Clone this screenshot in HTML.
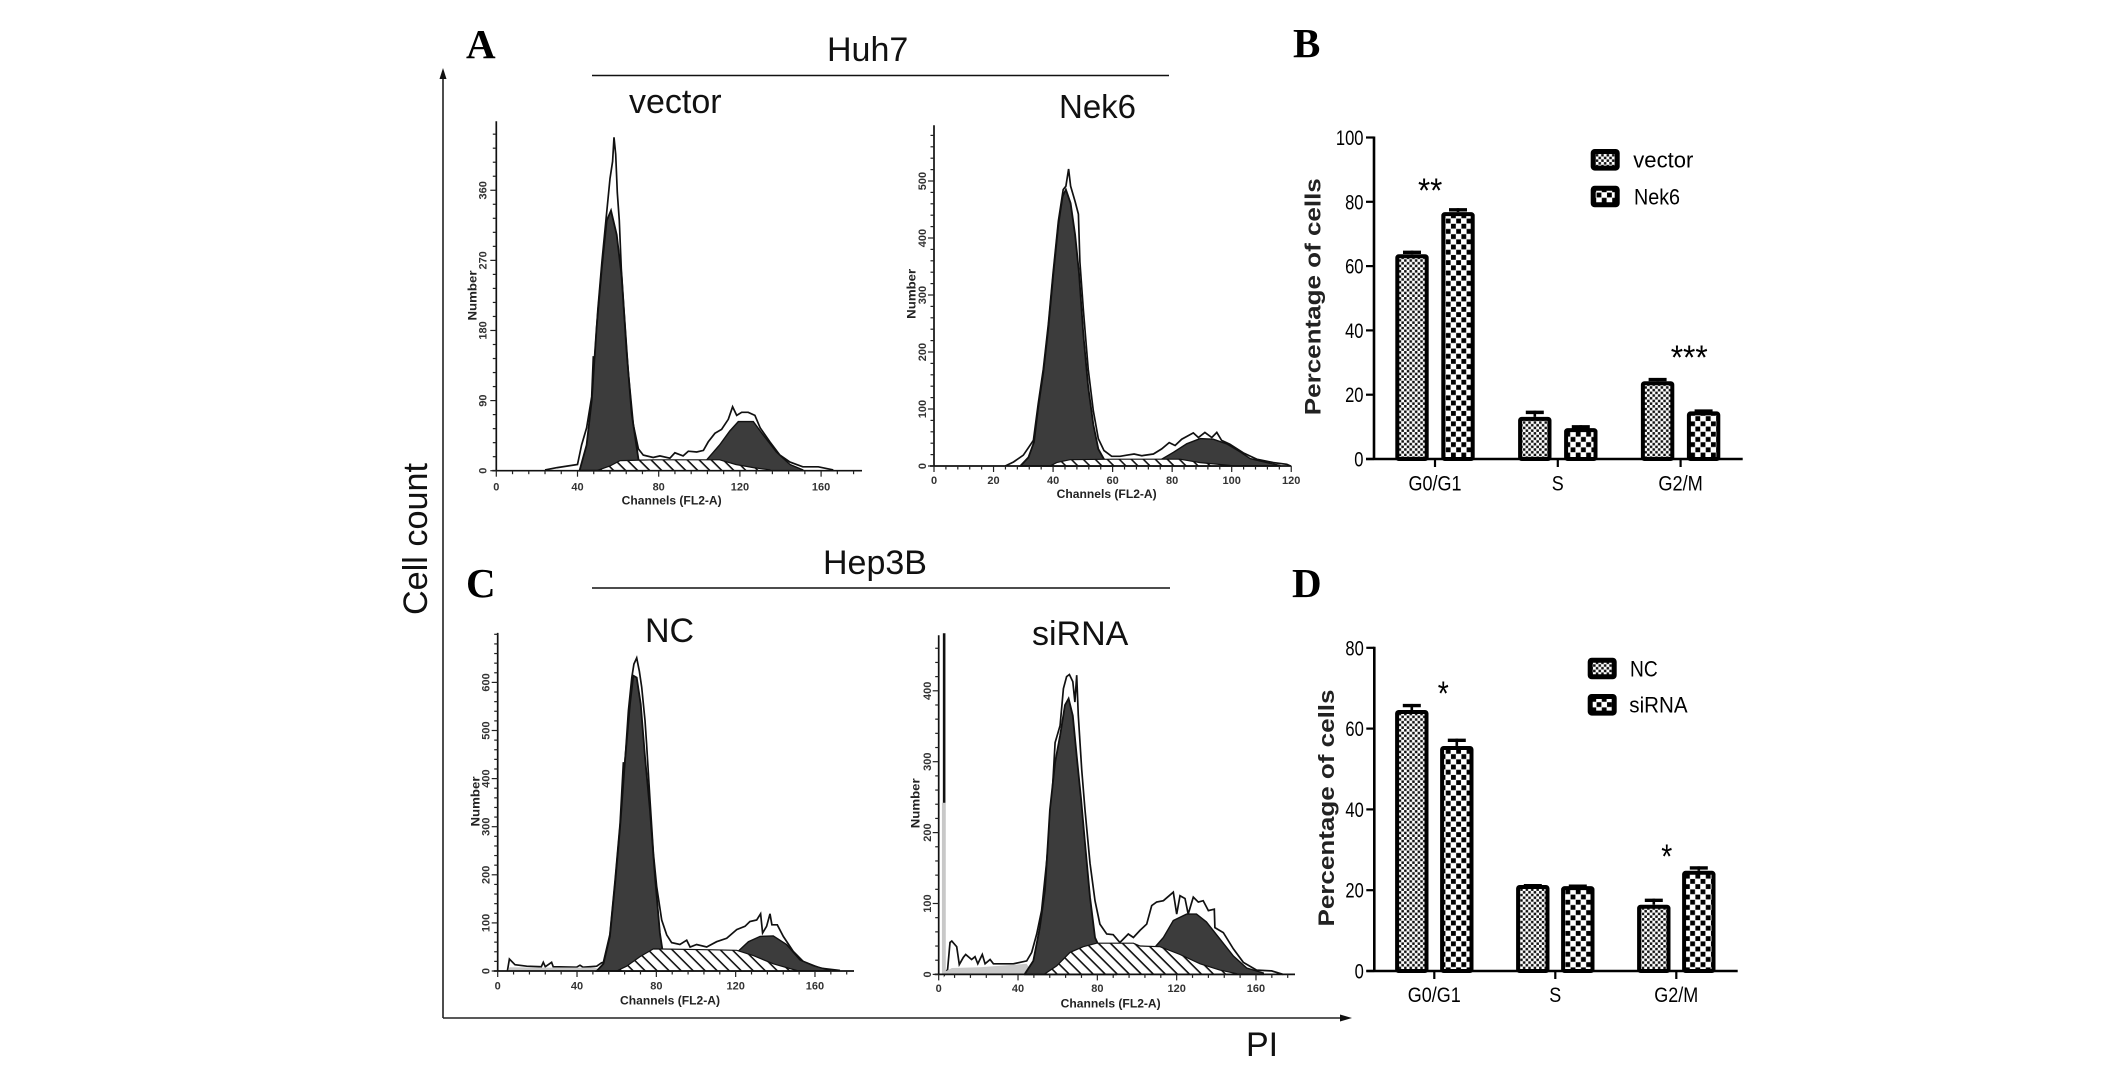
<!DOCTYPE html>
<html lang="en">
<head>
<meta charset="utf-8">
<title>Cell cycle analysis</title>
<style>
html,body{margin:0;padding:0;background:#fff;}
svg{display:block;}
text{fill:#000;font-family:"Liberation Sans",Arial,sans-serif;}
.letter{font-family:"Liberation Serif",serif;font-weight:bold;font-size:41px;}
.big{font-size:34px;fill:#111;}
</style>
</head>
<body>
<svg id="fig" xmlns="http://www.w3.org/2000/svg" width="2126" height="1067" viewBox="0 0 2126 1067">
  <defs>
    <pattern id="hatch" patternUnits="userSpaceOnUse" width="8.5" height="8.5" patternTransform="rotate(45)">
      <rect width="8.5" height="8.5" fill="#fff"/><rect width="8.5" height="1.6" fill="#111"/>
    </pattern>
    <pattern id="fine" patternUnits="userSpaceOnUse" width="5.4" height="5.4">
      <rect width="5.4" height="5.4" fill="#fff"/><rect x="0.1" y="0.1" width="2.5" height="2.5" fill="#111"/><rect x="2.8" y="2.8" width="2.5" height="2.5" fill="#111"/>
    </pattern>
    <pattern id="coarse" patternUnits="userSpaceOnUse" width="10.4" height="10.4">
      <rect width="10.4" height="10.4" fill="#fff"/><rect x="0.2" y="0.2" width="4.8" height="4.8" fill="#000"/><rect x="5.4" y="5.4" width="4.8" height="4.8" fill="#000"/>
    </pattern>
  </defs>
  <rect width="2126" height="1067" fill="#fff"/>

  <text class="letter" x="466" y="58">A</text>
  <text class="letter" x="1293" y="57">B</text>
  <text class="letter" x="466" y="597">C</text>
  <text class="letter" x="1292" y="597">D</text>

  <text class="big" x="827" y="61">Huh7</text>
  <line x1="592" y1="75.5" x2="1169" y2="75.5" stroke="#111" stroke-width="1.4"/>
  <text class="big" x="823" y="574">Hep3B</text>
  <line x1="592" y1="588" x2="1170" y2="588" stroke="#111" stroke-width="1.4"/>

  <text class="big" x="629" y="113">vector</text>
  <text class="big" x="1059" y="118" font-size="33" style="font-size:33px">Nek6</text>
  <text class="big" x="645" y="642">NC</text>
  <text class="big" x="1032" y="645">siRNA</text>

  <text class="big" transform="translate(427,615) rotate(-90)" textLength="152" lengthAdjust="spacingAndGlyphs">Cell count</text>
  <text class="big" x="1246" y="1056">PI</text>

  <line x1="443" y1="75" x2="443" y2="1018" stroke="#222" stroke-width="1.6"/>
  <polygon points="443,68 439.5,79 446.5,79" fill="#111"/>
  <line x1="443" y1="1018" x2="1345" y2="1018" stroke="#222" stroke-width="1.6"/>
  <polygon points="1352,1018 1340,1014.5 1340,1021.5" fill="#111"/>

  <g id="plots"></g>
</svg>

<script>
// ---- Panel A (Huh7 vector) histogram data
const aTicksX = [0, 40, 80, 120, 160];
const aTicksY = [0, 90, 180, 270, 360];
const aRawCh = [24,30,40,42,44.5,47,47.8,48.5,50,52,54,56,57.3,58,58.8,59.6,60.6,61.6,62.9,65,67.5,70,72.4,77.3,80.6,85.5,88,92,94.6,98.7,102,104.4,107.7,111,114.3,116.4,118.4,120.9,124.1,127.4,130,134.8,139.7,144.7,151,158.6,166];
const aRawV = [1,4,8,33,55,95,146,146,206,268,321,375,397,428,406,357,321,259,206,126,59,28,20,17,19,16,23,19,25,24,26,37,48,53,66,82,71,75,75,71,55,37,20,11,5,5,1];
const aG1Ch = [41,44.5,47,49.4,51.9,54.4,56.5,59.3,61.7,64.2,66.7,70,73];
const aG1V = [0,33,90,184,259,321,334,303,250,153,73,15,0];
const aG2Ch = [100,104,110,115,119.2,126.6,131.5,138,144.7,151];
const aG2V = [0,15,33,51,63,63,46,24,8,1];
const aSCh = [49.4,56,61,77.3,110,118,126.6,134.8];
const aSV = [0,6,13,14,14,8,4,1];

// ---- Panel Nek6 histogram data
const nTicksX = [0, 20, 40, 60, 80, 100, 120];
const nTicksY = [0, 100, 200, 300, 400, 500];
const nRawCh = [23.9,26.7,30,33.4,35,36.7,38.4,40,41.8,43.4,44.3,45.2,45.9,47.4,48.5,49,50.2,51.8,53.5,55.2,57.1,59.7,62.5,64.7,67.2,69.8,73.7,76.5,79,81,83.2,87.1,88.8,91,93.3,95,96.6,99.4,103.9,108.4,114,118.5,119.8];
const nRawV = [0,7,19,45,109,170,248,339,430,485,491,521,491,464,442,358,273,170,97,48,27,17,17,19,21,18,21,30,41,36,47,58,50,59,50,59,45,38,23,12,6,3,0];
const nG1Ch = [29,31.7,33.6,35,36.7,38.4,40,41.8,43.2,44.3,45.9,47.4,48.7,50.2,51.8,53.5,55.2,57.1,60.2];
const nG1V = [0,15,42,103,164,242,333,424,473,485,461,406,339,230,139,73,30,12,1];
const nG2Ch = [74,76.5,80.4,84.9,89.4,93.8,98.3,102.8,106.2,111.8,116.2];
const nG2V = [0,12,24,39,48,47,39,25,13,6,1];
const nSCh = [39,41.2,45.7,60.2,82.6,89.4,99.4];
const nSV = [0,6,11,12,12,6,1];

// ---- Panel NC histogram data
const cTicksX = [0, 40, 80, 120, 160];
const cTicksY = [0, 100, 200, 300, 400, 500, 600];
const cRawCh = [4.9,5.9,8.7,14.6,22,23,24,27.2,28,39.8,41.5,43,49.9,52.4,53.3,56.6,59.2,61.7,63.4,63.8,65.9,67.6,68.7,70.1,71.4,72.6,74.3,75.1,76.8,78.5,80.2,82.7,85.2,87.7,91.9,95.3,97,100.3,105.4,110.4,115.5,120.5,124.7,127.2,130.6,132.6,133.6,135.6,137.3,138.3,141,144,149,154,162.5,172.6];
const cRawV = [0,25,13,10,9,18,9,18,9,8,12,8,10,17,18,76,189,307,434,410,541,610,638,651,624,590,521,472,355,244,175,106,75,59,55,64,50,55,50,61,68,86,93,103,106,119,79,93,119,96,96,72,41,20,6,1];
const cG1Ch = [49.9,53.3,56.6,59.2,61.7,64.2,66.7,68.4,70.1,72.1,74.3,76.8,79.3,81.8,83,85,88];
const cG1V = [0,15,72,182,300,438,555,614,610,555,445,334,196,79,46,17,0];
const cG2Ch = [118,121.3,126.4,132.3,139,145.7,152.4,159.2,167.6];
const cG2V = [0,41,61,72,73,55,23,11,1];
const cSCh = [60,65,71.8,78.5,108.7,120.5,128.9,139,150.8];
const cSV = [0,10,30,46,44,43,32,15,1];
const cDebrisCh = [5,6,20,49,53];
const cDebrisV = [0,8,7,7,0];

// ---- Panel siRNA histogram data
const sTicksX = [0, 40, 80, 120, 160];
const sTicksY = [0, 100, 200, 300, 400];
const sRawCh = [2.5,2.5,3,3,4.5,5.7,6.6,9.1,10.4,12.4,13.6,16.6,18.3,19.7,22,23.4,25.9,27.6,37.6,44.4,46.9,49.4,51.9,54.5,57,58.7,61.2,62.9,64.5,65.9,67.6,68.7,69.6,70.4,72.1,73.8,76.3,78.8,81.3,84.7,88,91.4,95.6,98.2,101.5,104.9,107.4,109.9,113.3,118.3,120,121.7,124.2,125.8,128.4,130.9,133.4,136,139,139.3,143.5,148.6,153.6,160.3,167.9,173.8];
const sRawV = [0,480,480,0,7,45,47,39,14,24,28,21,25,15,28,15,21,15,15,19,31,57,90,161,242,327,351,403,420,423,413,384,422,365,289,232,157,104,71,57,56,45,57,52,62,71,97,102,104,116,85,111,107,85,109,102,104,90,92,66,59,36,17,6,5,0];
const sG1Ch = [43.5,47.7,51,53.6,56.1,58.7,61.2,63.7,65.5,67.6,69.6,71.8,73.8,76.3,78.8,80,84.7,89];
const sG1V = [1,19,66,119,232,299,337,380,389,365,308,247,185,109,52,45,14,0];
const sG2Ch = [107,109.6,113.3,118.3,125,130,135,141.8,148.6,155.3,163.7];
const sG2V = [0,40,52,76,85,85,74,50,26,9,2];
const sSCh = [53.6,59.5,66.2,72.9,79.7,98.2,101.5,111.6,121.7,131.8,141.8,150.3];
const sSV = [1,12,31,39,44,44,40,39,28,15,6,1];
const sDebrisCh = [1.6,1.6,3.4,3.4,4,6.6,20.8,44.4,47.7];
const sDebrisV = [0,242,242,5,5,9,10,15,0];

// ---- Bar chart data
const barCategories = ['G0/G1', 'S', 'G2/M'];
const vectorValues = [63.7, 13.1, 24.2];
const vectorErrors = [64.8, 15.0, 25.2];
const nek6Values = [76.8, 9.6, 14.8];
const nek6Errors = [78.0, 10.5, 15.4];
const ncValues = [64.6, 21.3, 16.4];
const ncErrors = [66.1, 21.5, 17.9];
const sirnaValues = [55.7, 21.0, 24.8];
const sirnaErrors = [57.5, 21.4, 25.9];
const bTicksY = [0, 20, 40, 60, 80, 100];
const dTicksY = [0, 20, 40, 60, 80];

const NS = 'http://www.w3.org/2000/svg';
const plots = document.getElementById('plots');

function make(tag, parent, attrs) {
  const e = document.createElementNS(NS, tag);
  for (const k in attrs) e.setAttribute(k, attrs[k]);
  parent.appendChild(e);
  return e;
}

function label(parent, str, x, y, opts) {
  const a = {x: x, y: y, 'font-size': opts.size};
  if (opts.anchor) a['text-anchor'] = opts.anchor;
  if (opts.weight) a['font-weight'] = opts.weight;
  if (opts.len) { a.textLength = opts.len; a.lengthAdjust = 'spacingAndGlyphs'; }
  if (opts.rotate) { a.transform = 'rotate(-90 ' + x + ' ' + y + ')'; }
  const t = make('text', parent, a);
  t.textContent = str;
  return t;
}

function points(chs, vals, sx, sy, closed) {
  const pts = chs.map((c, i) => sx(c).toFixed(1) + ',' + sy(vals[i]).toFixed(1));
  if (closed) {
    pts.unshift(sx(chs[0]).toFixed(1) + ',' + sy(0).toFixed(1));
    pts.push(sx(chs[chs.length - 1]).toFixed(1) + ',' + sy(0).toFixed(1));
  }
  return pts.join(' ');
}

function histogram(key, c, d) {
  const g = make('g', plots, {});
  
  
  const sx = ch => c.x0 + ch * c.kx;
  const sy = v => c.y0 - v * c.ky;

  const raw = make('polyline', g, {points: points(d.rawCh, d.rawV, sx, sy, false), fill: 'none', stroke: '#111', 'stroke-width': 1.7, 'stroke-linejoin': 'miter'});
  
  

  if (d.debrisCh) {
    const deb = make('polygon', g, {points: points(d.debrisCh, d.debrisV, sx, sy, true), fill: '#c8c8c8'});
    
    
  }

  const g1 = make('polygon', g, {points: points(d.g1Ch, d.g1V, sx, sy, true), fill: '#3c3c3c', stroke: '#111', 'stroke-width': 1.8});
  
  

  const g2 = make('polygon', g, {points: points(d.g2Ch, d.g2V, sx, sy, true), fill: '#3c3c3c', stroke: '#111', 'stroke-width': 1.4});
  
  

  const sp = make('polygon', g, {points: points(d.sCh, d.sV, sx, sy, true), fill: 'url(#hatch)', stroke: '#111', 'stroke-width': 1.2});
  
  

  const yAxis = make('line', g, {x1: c.x0, x2: c.x0, y1: c.yTop, y2: c.y0, stroke: '#111', 'stroke-width': 1.7});
  
  
  const xAxis = make('line', g, {x1: c.x0 - 4, x2: c.xEnd, y1: c.y0, y2: c.y0, stroke: '#111', 'stroke-width': 1.7});
  
  

  for (let ch = 0; sx(ch) <= c.xEnd + 0.5; ch += c.minorX) {
    const major = d.ticksX.indexOf(ch) >= 0;
    const t = make('line', g, {x1: sx(ch), x2: sx(ch), y1: c.y0, y2: c.y0 + (major ? 6 : 3.5), stroke: '#222', 'stroke-width': 1.2});
    
    
  }
  for (let v = 0; sy(v) >= c.yTop; v += c.minorY) {
    const major = d.ticksY.indexOf(v) >= 0;
    const t = make('line', g, {x1: c.x0, x2: c.x0 - (major ? 6 : 3.5), y1: sy(v), y2: sy(v), stroke: '#222', 'stroke-width': 1.2});
    
    
  }
  d.ticksX.forEach(v => {
    const t = label(g, String(v), sx(v), c.xLabelY, {size: 11, anchor: 'middle', weight: 'bold'});
    
    
    t.style.fill = '#333';
  });
  d.ticksY.forEach(v => {
    const t = label(g, String(v), c.yLabelX, sy(v), {size: 11, anchor: 'middle', weight: 'bold', rotate: true});
    
    
    t.style.fill = '#333';
  });
  const xt = label(g, 'Channels (FL2-A)', c.xTitleX, c.xTitleY, {size: 11.5, anchor: 'middle', weight: 'bold', len: 100});
  
  
  xt.style.fill = '#222';
  const yt = label(g, 'Number', c.yTitleX, c.yTitleY, {size: 12, anchor: 'middle', weight: 'bold', len: 50, rotate: true});
  
  
  yt.style.fill = '#222';
}

histogram('vector', {x0: 496.3, y0: 470.7, kx: 2.03, ky: 0.779, xEnd: 862, yTop: 121.3, minorX: 8, minorY: 18, xLabelY: 490.5, yLabelX: 486.7, xTitleX: 671.7, xTitleY: 504.5, yTitleX: 476.7, yTitleY: 295.5},
  {ticksX: aTicksX, ticksY: aTicksY, rawCh: aRawCh, rawV: aRawV, g1Ch: aG1Ch, g1V: aG1V, g2Ch: aG2Ch, g2V: aG2V, sCh: aSCh, sV: aSV});
histogram('nek6', {x0: 934, y0: 466, kx: 2.977, ky: 0.57, xEnd: 1291.3, yTop: 125.2, minorX: 4, minorY: 20, xLabelY: 484, yLabelX: 926, xTitleX: 1106.7, xTitleY: 498, yTitleX: 915.7, yTitleY: 293.8},
  {ticksX: nTicksX, ticksY: nTicksY, rawCh: nRawCh, rawV: nRawV, g1Ch: nG1Ch, g1V: nG1V, g2Ch: nG2Ch, g2V: nG2V, sCh: nSCh, sV: nSV});
histogram('nc', {x0: 497.7, y0: 971, kx: 1.983, ky: 0.481, xEnd: 854, yTop: 632.9, minorX: 8, minorY: 20, xLabelY: 989.5, yLabelX: 489.3, xTitleX: 670, xTitleY: 1004.5, yTitleX: 479.3, yTitleY: 801.5},
  {ticksX: cTicksX, ticksY: cTicksY, rawCh: cRawCh, rawV: cRawV, g1Ch: cG1Ch, g1V: cG1V, g2Ch: cG2Ch, g2V: cG2V, sCh: cSCh, sV: cSV, debrisCh: cDebrisCh, debrisV: cDebrisV});
histogram('sirna', {x0: 938.7, y0: 974.4, kx: 1.983, ky: 0.709, xEnd: 1295, yTop: 635.2, minorX: 8, minorY: 20, xLabelY: 992, yLabelX: 931, xTitleX: 1110.7, xTitleY: 1007.5, yTitleX: 919.3, yTitleY: 803.3},
  {ticksX: sTicksX, ticksY: sTicksY, rawCh: sRawCh, rawV: sRawV, g1Ch: sG1Ch, g1V: sG1V, g2Ch: sG2Ch, g2V: sG2V, sCh: sSCh, sV: sSV, debrisCh: sDebrisCh, debrisV: sDebrisV});

function barChart(key, c, d) {
  const g = make('g', plots, {});
  
  
  const sy = v => c.y0 - v * c.ky;
  const barW = 29.4;

  d.series.forEach((s, si) => {
    d.categories.forEach((cat, i) => {
      const cx = c.cx0 + i * c.step + s.offset;
      const stem = make('line', g, {x1: cx, x2: cx, y1: sy(s.errors[i]), y2: sy(s.values[i]), stroke: '#000', 'stroke-width': 2.6});
      
      
      const cap = make('line', g, {x1: cx - 9, x2: cx + 9, y1: sy(s.errors[i]) + 1.6, y2: sy(s.errors[i]) + 1.6, stroke: '#000', 'stroke-width': 3.4});
      
      
      const bar = make('rect', g, {x: cx - barW / 2, y: sy(s.values[i]) + 2, width: barW, height: c.y0 - sy(s.values[i]) - 2, fill: 'url(#' + s.pattern + ')', stroke: '#000', 'stroke-width': 4, rx: 1.5});
      
      
    });
  });

  const yAxis = make('line', g, {x1: c.x0, x2: c.x0, y1: sy(d.ticksY[d.ticksY.length - 1]) - 1, y2: c.y0, stroke: '#000', 'stroke-width': 2.6});
  
  
  const xAxis = make('line', g, {x1: c.x0 - 8, x2: c.xEnd, y1: c.y0, y2: c.y0, stroke: '#000', 'stroke-width': 2.6});
  
  

  d.ticksY.forEach(v => {
    const t = make('line', g, {x1: c.x0 - 8, x2: c.x0, y1: sy(v), y2: sy(v), stroke: '#000', 'stroke-width': 2.2});
    
    
    const s = String(v);
    const lab = label(g, s, c.x0 - 10.5, sy(v) + 7.5, {size: 21, anchor: 'end', len: s.length * 9.2});
    
    
  });
  d.categories.forEach((cat, i) => {
    const cx = c.cx0 + i * c.step;
    const t = make('line', g, {x1: cx, x2: cx, y1: c.y0, y2: c.y0 + 8, stroke: '#000', 'stroke-width': 2.2});
    
    
    const lab = label(g, cat, cx, c.catY, {size: 21, anchor: 'middle', len: c.catLens[i]});
    
    
  });

  const title = label(g, 'Percentage of cells', c.titleX, c.titleY, {size: 22, anchor: 'middle', weight: 'bold', len: 237, rotate: true});
  
  
  title.style.fill = '#222';

  d.series.forEach((s, si) => {
    const lg = c.legend[si];
    const sw = make('rect', g, {x: lg.sx + 2.5, y: lg.sy + 2.5, width: 24, height: 16.6, fill: 'url(#' + s.pattern + ')', stroke: '#000', 'stroke-width': 5, rx: 1.5});
    
    
    const lt = label(g, s.title, lg.tx, lg.ty, {size: 22, len: lg.w});
    
    
  });

  c.stars.forEach(st => {
    const t = label(g, st.text, st.x, st.y, {size: 34, len: st.w});
    
    
  });
}

barChart('huh7', {
    x0: 1374, y0: 459, ky: 3.215, xEnd: 1742.7, cx0: 1435, step: 122.8, catY: 490.7, catLens: [53, 12, 44.5],
    titleX: 1320.7, titleY: 296.7,
    legend: [{sx: 1590.7, sy: 149, tx: 1633.3, ty: 167.3, w: 60}, {sx: 1590.7, sy: 185.7, tx: 1634, ty: 204.3, w: 46}],
    stars: [{text: '**', x: 1418, y: 202, w: 24.3}, {text: '***', x: 1670.7, y: 369, w: 37}]
  }, {
    categories: barCategories, ticksY: bTicksY,
    series: [
      {name: 'vector', title: 'vector', offset: -23, pattern: 'fine', values: vectorValues, errors: vectorErrors},
      {name: 'nek6', title: 'Nek6', offset: 23, pattern: 'coarse', values: nek6Values, errors: nek6Errors}
    ]
  });

barChart('hep3b', {
    x0: 1374.3, y0: 971, ky: 4.04, xEnd: 1737.7, cx0: 1434.3, step: 121, catY: 1002, catLens: [53, 12, 44],
    titleX: 1334, titleY: 808,
    legend: [{sx: 1587.7, sy: 657.7, tx: 1630, ty: 676.7, w: 27.7}, {sx: 1587.7, sy: 694, tx: 1629.3, ty: 712.7, w: 58.3}],
    stars: [{text: '*', x: 1437.7, y: 705, w: 11}, {text: '*', x: 1661.3, y: 868, w: 11}]
  }, {
    categories: barCategories, ticksY: dTicksY,
    series: [
      {name: 'nc', title: 'NC', offset: -22.5, pattern: 'fine', values: ncValues, errors: ncErrors},
      {name: 'sirna', title: 'siRNA', offset: 22.5, pattern: 'coarse', values: sirnaValues, errors: sirnaErrors}
    ]
  });
</script>
</body>
</html>
